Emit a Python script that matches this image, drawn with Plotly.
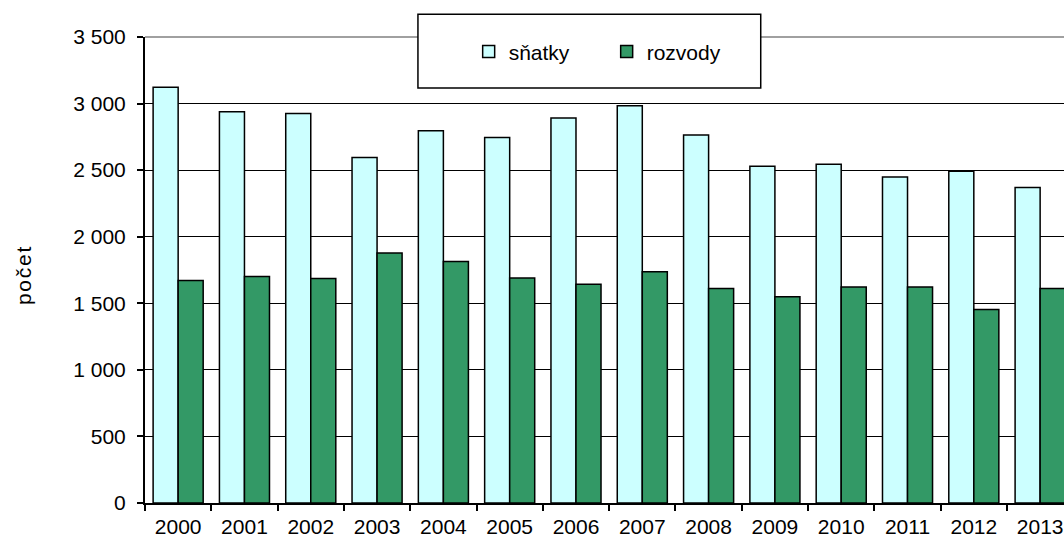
import plotly.graph_objects as go

years = ["2000", "2001", "2002", "2003", "2004", "2005", "2006",
         "2007", "2008", "2009", "2010", "2011", "2012", "2013"]
snatky = [3123, 2938, 2925, 2595, 2796, 2746, 2891, 2983, 2764, 2530, 2545, 2449, 2492, 2369]
rozvody = [1672, 1702, 1687, 1877, 1813, 1690, 1643, 1736, 1611, 1549, 1623, 1623, 1454, 1611]

FONT = "Liberation Sans, Arial, sans-serif"

fig = go.Figure()
fig.add_trace(go.Bar(x=years, y=snatky, name="sňatky",
                     marker=dict(color="#CCFFFF", line=dict(color="black", width=1.5))))
fig.add_trace(go.Bar(x=years, y=rozvody, name="rozvody",
                     marker=dict(color="#339966", line=dict(color="black", width=1.5))))

fig.update_layout(
    width=1064, height=541,
    margin=dict(l=145, r=0, t=37, b=38),
    paper_bgcolor="white", plot_bgcolor="white",
    font=dict(family=FONT, size=21, color="black"),
    separators=", ",
    barmode="group", bargap=0.245, bargroupgap=0,
    showlegend=True,
    legend=dict(orientation="h", x=0.3522, xanchor="left", y=0.968, yanchor="middle",
                bgcolor="rgba(0,0,0,0)", borderwidth=0, entrywidth=93,
                font=dict(family=FONT, size=21), itemwidth=30),
    xaxis=dict(type="category", range=[-0.5, 13.36], showgrid=False,
               showline=True, linecolor="black", linewidth=2,
               ticks="outside", tickson="boundaries", ticklen=6, tickwidth=1.5,
               tickcolor="black", ticklabelstandoff=4,
               tickfont=dict(family=FONT, size=21)),
    yaxis=dict(range=[0, 3500], dtick=500, tickformat=",d",
               showgrid=True, gridcolor="black", gridwidth=1,
               zeroline=False, showline=True, linecolor="black", linewidth=2,
               ticks="outside", ticklen=6, tickwidth=1.5, tickcolor="black",
               ticklabelstandoff=7,
               tickfont=dict(family=FONT, size=21)),
    shapes=[
        dict(type="line", xref="paper", yref="paper", x0=0, x1=1, y0=1, y1=1,
             line=dict(color="#808080", width=1.5), layer="above"),
        dict(type="rect", xref="paper", yref="paper", x0=0.297, x1=0.670,
             y0=0.8906, y1=1.049, fillcolor="white",
             line=dict(color="black", width=1.5), layer="above"),
    ],
    annotations=[
        dict(text="p o č e t".replace(" ", "\u200a"), xref="paper", yref="paper",
             x=-0.1328, y=0.489, showarrow=False, textangle=-90,
             font=dict(family=FONT, size=21), xanchor="center", yanchor="middle"),
    ],
)

fig.write_html(
    "out.html",
    config={"displayModeBar": False},
    post_script="document.body.style.margin='0';document.body.style.overflow='hidden';",
)
